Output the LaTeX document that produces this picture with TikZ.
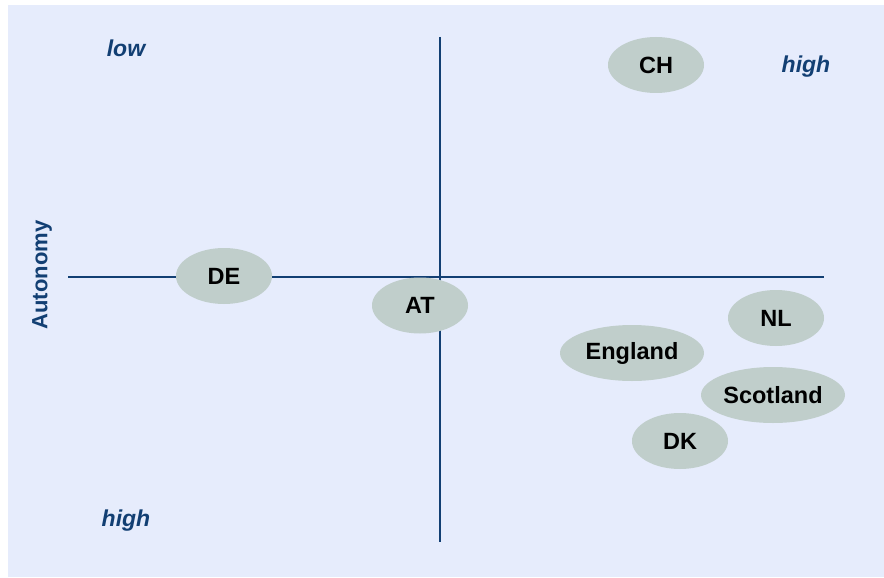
\documentclass[tikz,border=0pt]{standalone}
\usepackage{fontspec}
\setmainfont{Liberation Sans}
\usetikzlibrary{shapes.geometric}
\definecolor{bgblue}{HTML}{E6ECFC}
\definecolor{navy}{HTML}{123F73}
\definecolor{blobfill}{HTML}{C0CECB}
\begin{document}
\begin{tikzpicture}[x=1pt,y=-1pt,
  blob/.style={ellipse,fill=blobfill,inner sep=0pt,minimum height=56pt,
    font=\fontsize{23.5}{25}\selectfont\bfseries,text=black},
  smallblob/.style={blob,minimum width=96pt},
  wideblob/.style={blob,minimum width=144pt},
  axis/.style={navy,line width=2.8pt},
  corner/.style={font=\fontsize{23}{25}\selectfont\bfseries\itshape,text=navy}]
\useasboundingbox (0,0) rectangle (884,578);
\fill[bgblue] (8,5) rectangle (884,577);
\coordinate (hl) at (68,277);
\coordinate (hr) at (824,277);
\coordinate (vt) at (440,37);
\coordinate (vb) at (440,542);
\draw[axis] (hl) -- (hr);
\draw[axis] (vt) -- (vb);
\node[smallblob] (CH) at (656,65) {CH};
\node[smallblob] (DE) at (224,276) {DE};
\node[smallblob] (AT) at (420,305.5) {AT};
\node[smallblob] (NL) at (776,318) {NL};
\node[wideblob] (EN) at (632,353) {England};
\node[wideblob] (SC) at (773,395) {Scotland};
\node[smallblob] (DK) at (680,441) {DK};
\node[corner] (low) at (126,48) {low};
\node[corner] (hightr) at (806,67) {high};
\node[corner] (highbl) at (126,521) {high};
\node[rotate=90,font=\fontsize{22}{24}\selectfont\bfseries,text=navy] (aut) at (42,275) {Autonomy};
\end{tikzpicture}
\end{document}
